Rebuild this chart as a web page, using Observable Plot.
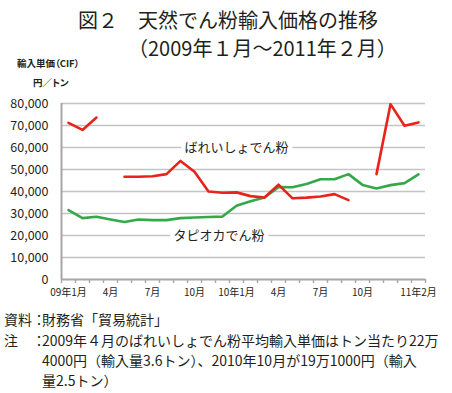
<!DOCTYPE html>
<html>
<head>
<meta charset="utf-8">
<script src="https://cdn.jsdelivr.net/npm/d3@7"></script>
<script src="https://cdn.jsdelivr.net/npm/@observablehq/plot@0.6"></script>
<style>
  html, body { margin: 0; padding: 0; background: #fff; }
  body { width: 452px; height: 393px; position: relative; overflow: hidden;
         font-family: "Noto Sans CJK JP", "Noto Sans", sans-serif; color: #231f20; }
  .abs { position: absolute; white-space: nowrap; }
  .title { font-size: 20px; line-height: 28px; }
  .ylab { font-size: 9.5px; font-weight: bold; font-feature-settings: "palt"; line-height: 12px; }
  .note { font-size: 14px; line-height: 20px; }
  .colon { letter-spacing: -4px; }
  #chart { position: absolute; left: 0; top: 88px; }
</style>
</head>
<body>
<div class="abs title" style="left:78px; top:6px;">図２　天然でん粉輸入価格の推移</div>
<div class="abs title" style="left:128px; top:34px;">（2009年１月～2011年２月）</div>
<div class="abs ylab" style="left:17px; top:57px;">輸入単価（CIF）</div>
<div class="abs ylab" style="left:33px; top:76px;">円／トン</div>
<div id="chart"></div>
<div class="abs note" style="left:4px; top:309px;">資料<span class="colon">：</span>財務省「貿易統計」</div>
<div class="abs note" style="left:4px; top:330px;">注　<span class="colon">：</span>2009年４月のばれいしょでん粉平均輸入単価はトン当たり22万</div>
<div class="abs note" style="left:42px; top:350px;">4000円（輸入量3.6トン）、2010年10月が19万1000円（輸入</div>
<div class="abs note" style="left:42px; top:370px;">量2.5トン）</div>
<script>
// Months: Jan 2009 .. Feb 2011 (26 months)
const months = ["09年1月","2月","3月","4月","5月","6月","7月","8月","9月","10月","11月","12月",
                "10年1月","2月","3月","4月","5月","6月","7月","8月","9月","10月","11月","12月",
                "11年1月","11年2月"];
// Tick labels shown on the x axis (month index -> label)
const tickMonths = [0, 3, 6, 9, 12, 15, 18, 21, 25];
const tickLabels = ["09年1月","4月","7月","10月","10年1月","4月","7月","10月","11年2月"];
// Y ticks
const yTicks = [0, 10000, 20000, 30000, 40000, 50000, 60000, 70000, 80000];

// Potato starch (ばれいしょでん粉), yen/ton; null = off-chart / no data
const potato = [71200, 68000, 73600, null, 46700, 46700, 46900, 47900, 53900, 49000, 40000, 39400,
                39600, 37900, 37300, 43100, 36900, 37200, 37700, 38800, 36100, null, 47900, 79700,
                69900, 71400];
// Tapioca starch (タピオカでん粉), yen/ton
const tapioca = [31500, 27900, 28500, 27300, 26100, 27300, 27000, 27000, 27900, 28200, 28400, 28600,
                 33500, 35600, 37300, 42000, 41900, 43400, 45600, 45600, 47900, 43000, 41400, 42900,
                 43800, 47800];

const seriesNames = ["ばれいしょでん粉", "タピオカでん粉"];

const rows = months.map((m, i) => ({i, month: m, potato: potato[i], tapioca: tapioca[i]}));

const axisColor = "#a6a6a6";
const gridColor = "#c4c4c4";

const chart = Plot.plot({
  width: 452,
  height: 217,
  marginLeft: 61,
  marginRight: 27,
  marginTop: 15,
  marginBottom: 26,
  x: {type: "linear", domain: [0, months.length], axis: null},
  y: {domain: [0, 80000], axis: null},
  style: {fontFamily: "'Noto Sans CJK JP', 'Noto Sans', sans-serif", color: "#231f20", background: "transparent"},
  marks: [
    Plot.gridY(yTicks.filter(d => d > 0), {stroke: gridColor, strokeOpacity: 1, strokeWidth: 1.4}),
    Plot.axisY(yTicks, {anchor: "left", tickSize: 0, tickPadding: 13, tickFormat: d3.format(","), fontSize: 12.5, fill: "#231f20"}),
    Plot.axisX(d3.range(months.length + 1), {anchor: "bottom", tickSize: 4, tickFormat: () => "", stroke: axisColor, strokeWidth: 1.4}),
    Plot.axisX(tickMonths.map(i => i + 0.5), {anchor: "bottom", tickSize: 0, tickPadding: 9,
      tickFormat: (d) => tickLabels[tickMonths.indexOf(d - 0.5)], fontSize: 10, fill: "#231f20"}),
    Plot.ruleY([0], {stroke: axisColor, strokeWidth: 2}),
    Plot.ruleX([0], {stroke: axisColor, strokeWidth: 2}),
    Plot.lineY(rows, {x: d => d.i + 0.5, y: "tapioca", stroke: "#36a84a", strokeWidth: 2.6}),
    Plot.lineY(rows, {x: d => d.i + 0.5, y: "potato", stroke: "#e8231b", strokeWidth: 2.6}),
    Plot.text([seriesNames[0]], {x: 12.5, y: 60000, text: d => d, fontSize: 13, fill: "#231f20",
      stroke: "white", strokeWidth: 9}),
    Plot.text([seriesNames[1]], {x: 11.25, y: 20000, text: d => d, fontSize: 13, fill: "#231f20",
      stroke: "white", strokeWidth: 9})
  ]
});
document.getElementById("chart").appendChild(chart);
</script>
</body>
</html>
